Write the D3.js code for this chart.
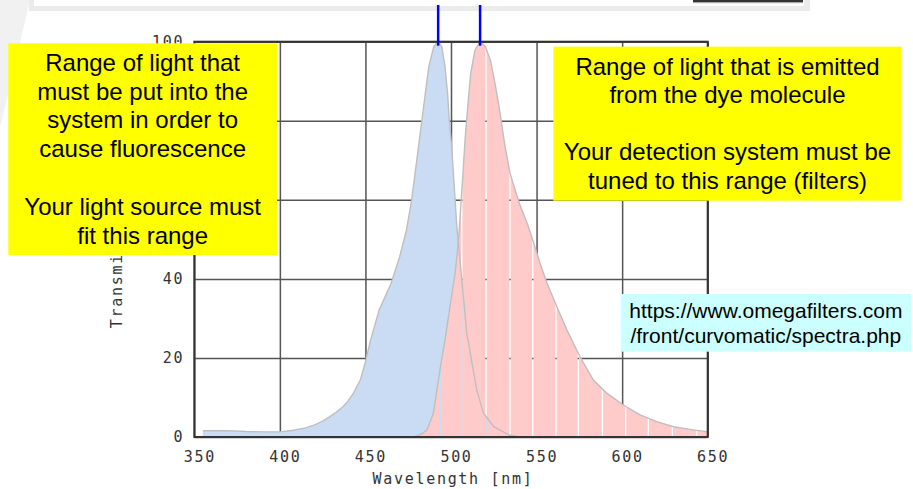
<!DOCTYPE html>
<html>
<head>
<meta charset="utf-8">
<script src="https://cdn.jsdelivr.net/npm/d3@7"></script>
<style>
  html, body { margin: 0; padding: 0; background: #fff; }
  svg { display: block; }
  .mono { font-family: "DejaVu Sans Mono", "Liberation Mono", monospace; font-size: 15px; letter-spacing: 1.7px; fill: #333; }
  .note { font-family: "Liberation Sans", Arial, sans-serif; fill: #000; text-anchor: middle; }
</style>
</head>
<body>
<svg id="chart" width="913" height="489"></svg>
<script>
// Fluorescein-type dye: excitation and emission spectra (wavelength nm, relative %)
const excitationWavelength = [355, 370, 380, 390, 400, 408, 415, 420, 425, 429, 433, 437, 440, 443, 447, 450, 453, 458, 465, 470, 474, 477, 479, 481, 483, 485, 487, 490, 492.5, 494.6, 496.5, 498, 499, 500.4, 501.4, 502.4, 503.4, 504.9, 506.3, 507.8, 509.2, 511, 515, 519, 525, 534, 540];
const excitationValue      = [1.6, 1.6, 1.4, 1.3, 1.3, 1.7, 2.3, 3.0, 4.0, 5.1, 6.3, 7.7, 9.2, 11.1, 14.4, 19, 24.5, 32.1, 38.9, 45.6, 52.4, 60, 66.7, 73.4, 80.2, 86.9, 93.7, 98.8, 100, 98.8, 93.7, 86.9, 80.2, 73.4, 66.7, 60, 53.2, 46.5, 39.7, 33, 26.2, 22, 11.9, 6, 2.6, 0.5, 0];

const emissionWavelength = [478, 480, 483, 486, 489.7, 492.6, 494.5, 496.5, 499.4, 502.4, 504.4, 505.7, 507, 508.2, 509.8, 511.5, 514, 517, 520, 523, 525.7, 528.7, 531.6, 534.5, 540, 545, 548, 552, 556, 561.8, 567.7, 575.4, 583.2, 591, 600.7, 610.5, 620.2, 630, 641.6, 650];
const emissionValue      = [0, 0.3, 0.8, 1.8, 6, 14.4, 19.5, 24.5, 33, 41.4, 49.8, 58.3, 66.7, 75.1, 83.6, 92, 97.9, 100, 98.8, 95.4, 89.5, 81.9, 73.4, 66.7, 59, 53.5, 49.5, 44, 39, 33, 27.1, 20.3, 14.4, 11.1, 8.1, 5.6, 3.9, 2.6, 1.8, 1.3];

// Wavelengths where the emission fill shows thin gaps
const emissionSeams = [493.8, 506.3, 520.5, 534.5, 547.8, 561.4, 574.4, 588.5, 602.1, 615.3, 629.4, 643.6];

const wavelengthTicks   = [350, 400, 450, 500, 550, 600, 650];
const transmissionTicks = [0, 20, 40, 60, 80, 100];

const xTitle = "Wavelength [nm]";
const yTitle = "Transmission [%]";

const leftNote  = ["Range of light that", "must be put into the", "system in order to", "cause fluorescence", "", "Your light source must", "fit this range"];
const rightNote = ["Range of light that is emitted", "from the dye molecule", "", "Your detection system must be", "tuned to this range (filters)"];
const sourceNote = ["https://www.omegafilters.com", "/front/curvomatic/spectra.php"];

const excitation = excitationWavelength.map((w, i) => ({ w, v: excitationValue[i] }));
const emission   = emissionWavelength.map((w, i) => ({ w, v: emissionValue[i] }));

const svg = d3.select("#chart");
const plot = { left: 194.3, right: 707.7, top: 41.7, bottom: 437 };

const x = d3.scaleLinear().domain([350, 650]).range([plot.left, plot.right]);
const y = d3.scaleLinear().domain([0, 100]).range([plot.bottom, plot.top]);

// page background pieces
svg.append("rect").attr("width", 913).attr("height", 489).attr("fill", "#fff");
svg.append("polygon").attr("points", "0,0 30,0 0,128").attr("fill", "#f1f1f1");
svg.append("rect").attr("x", 29).attr("y", -20).attr("width", 781).attr("height", 31).attr("fill", "#ebebeb");
svg.append("rect").attr("x", 34).attr("y", -20).attr("width", 770).attr("height", 26).attr("fill", "#fff");
svg.append("rect").attr("x", 693).attr("y", 0).attr("width", 110).attr("height", 2).attr("fill", "#333");
svg.append("rect").attr("x", 693).attr("y", 2).attr("width", 110).attr("height", 1.2).attr("fill", "#aaa");

// grid (behind the spectra)
const gx = svg.append("g")
  .attr("transform", `translate(0,${plot.bottom})`)
  .call(d3.axisBottom(x).tickValues(wavelengthTicks).tickSize(-(plot.bottom - plot.top)).tickFormat(""));
gx.select(".domain").remove();
gx.selectAll(".tick line").attr("stroke", "#555").attr("stroke-width", 1.5);

const gy = svg.append("g")
  .attr("transform", `translate(${plot.left},0)`)
  .call(d3.axisLeft(y).tickValues(transmissionTicks).tickSize(-(plot.right - plot.left)).tickFormat(""));
gy.select(".domain").remove();
gy.selectAll(".tick line").attr("stroke", "#555").attr("stroke-width", 1.5);

// spectra
const area = d3.area().x(d => x(d.w)).y0(y(0)).y1(d => y(d.v));
const line = d3.line().x(d => x(d.w)).y(d => y(d.v));

svg.append("path").datum(excitation).attr("d", area).attr("fill", "#c9dcf4");

// emission fill is split into strips with hairline gaps
const bounds = [plot.left, ...emissionSeams.map(x), plot.right];
const gap = 1.3;
const clip = svg.append("defs").append("clipPath").attr("id", "seams");
clip.selectAll("rect").data(d3.range(bounds.length - 1)).join("rect")
  .attr("x", i => bounds[i] + (i > 0 ? gap / 2 : 0))
  .attr("width", i => bounds[i + 1] - bounds[i] - (i > 0 ? gap / 2 : 0) - (i < bounds.length - 2 ? gap / 2 : 0))
  .attr("y", 0).attr("height", 489);
svg.append("path").datum(emission).attr("d", area).attr("fill", "#ffcaca").attr("clip-path", "url(#seams)");

svg.append("path").datum(excitation).attr("d", line).attr("fill", "none").attr("stroke", "#bfbfbf").attr("stroke-width", 1.4);
svg.append("path").datum(emission).attr("d", line).attr("fill", "none").attr("stroke", "#bfbfbf").attr("stroke-width", 1.4);

// plot frame
svg.append("rect")
  .attr("x", plot.left).attr("y", plot.top)
  .attr("width", plot.right - plot.left).attr("height", plot.bottom - plot.top)
  .attr("fill", "none").attr("stroke", "#333").attr("stroke-width", 2);

// peak markers
const exPeak = excitation.reduce((a, b) => (b.v > a.v ? b : a));
const emPeak = emission.reduce((a, b) => (b.v > a.v ? b : a));
svg.selectAll(".peak").data([exPeak, emPeak]).join("line")
  .attr("class", "peak")
  .attr("x1", d => x(d.w)).attr("x2", d => x(d.w))
  .attr("y1", 5).attr("y2", y(d3.max([exPeak, emPeak], d => d.v)) + 4)
  .attr("stroke", "#0000ff").attr("stroke-width", 2.5);

// axis labels
const ax = svg.append("g")
  .attr("transform", `translate(0,${plot.bottom})`)
  .call(d3.axisBottom(x).tickValues(wavelengthTicks).tickSize(0).tickPadding(25).tickFormat(d3.format("d")));
ax.select(".domain").remove();
ax.selectAll("text").attr("class", "mono").attr("dx", 5).attr("dy", 0).attr("font-size", null).attr("font-family", null);

const ay = svg.append("g")
  .attr("transform", `translate(${plot.left},0)`)
  .call(d3.axisLeft(y).tickValues(transmissionTicks).tickSize(0).tickPadding(10).tickFormat(d3.format("d")));
ay.select(".domain").remove();
ay.selectAll("text").attr("class", "mono").attr("font-size", null).attr("font-family", null);

svg.append("text").attr("class", "mono")
  .attr("x", (plot.left + plot.right) / 2 + 2).attr("y", 484)
  .attr("text-anchor", "middle").text(xTitle);

svg.append("text").attr("class", "mono")
  .attr("transform", `translate(122,${(plot.top + plot.bottom) / 2 + 3}) rotate(-90)`)
  .attr("text-anchor", "middle").text(yTitle);

// annotation boxes
function noteBox(lines, box, fill, fontSize, firstBaseline, lineHeight) {
  const g = svg.append("g");
  g.append("rect").attr("x", box[0]).attr("y", box[1]).attr("width", box[2]).attr("height", box[3]).attr("fill", fill);
  g.selectAll("text").data(lines).join("text")
    .attr("class", "note")
    .attr("font-size", fontSize)
    .attr("x", box[0] + box[2] / 2)
    .attr("y", (d, i) => firstBaseline + i * lineHeight)
    .text(d => d);
}
noteBox(leftNote, [8.3, 43.3, 268.7, 211.7], "#ffff00", 24, 70.7, 28.8);
noteBox(rightNote, [553.3, 46.7, 348.4, 154], "#ffff00", 24, 75, 28.4);
noteBox(sourceNote, [620.7, 294, 290.3, 57.7], "#ccffff", 21, 318.3, 25);
</script>
</body>
</html>
